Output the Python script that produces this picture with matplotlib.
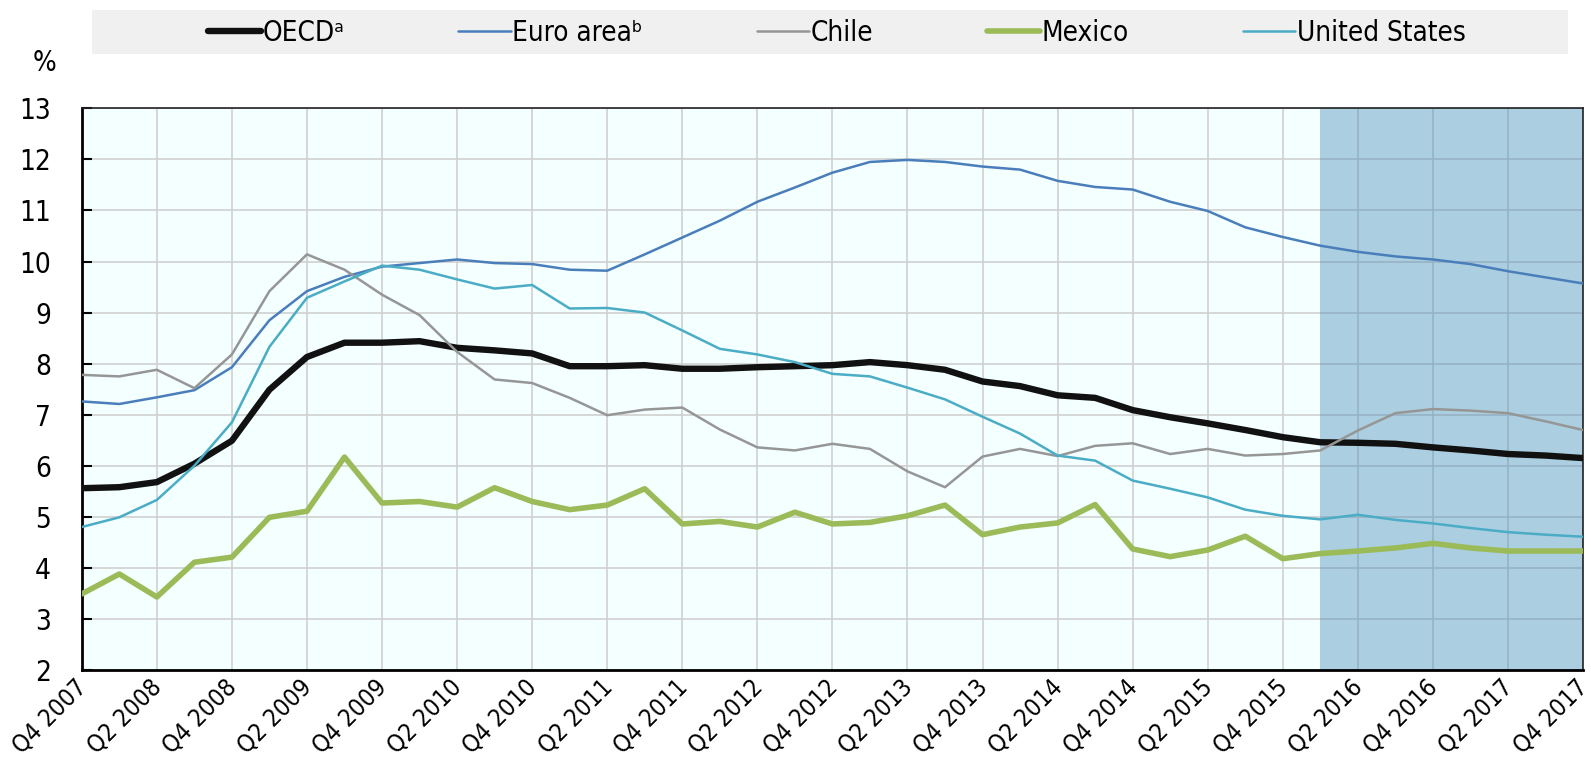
import matplotlib; matplotlib.use("Agg"); import matplotlib.pyplot as plt
from matplotlib.patches import Rectangle
from matplotlib import font_manager as fm
import matplotlib.transforms as mtrans
import numpy as np

# pick a narrow sans if one is installed
names = {f.name for f in fm.fontManager.ttflist}
condensed = [f for f in fm.fontManager.ttflist if 'ondensed' in f.fname or 'Narrow' in f.fname]
if 'Liberation Sans Narrow' in names:
    plt.rcParams['font.family'] = ['Liberation Sans Narrow', 'DejaVu Sans']
elif condensed:
    fam = condensed[0].name
    plt.rcParams['font.family'] = [fam, 'DejaVu Sans']
    plt.rcParams['font.stretch'] = condensed[0].stretch
else:
    plt.rcParams['font.family'] = ['DejaVu Sans']

# quarters Q4 2007 .. Q4 2017
quarters = [f"Q{(q + 3) % 4 + 1} {2007 + (q + 3) // 4}" for q in range(41)]
oecd = [5.56, 5.58, 5.68, 6.04, 6.49, 7.49, 8.13, 8.41, 8.41, 8.44, 8.31, 8.26, 8.20, 7.95,
        7.95, 7.97, 7.90, 7.90, 7.93, 7.95, 7.97, 8.03, 7.97, 7.88, 7.65, 7.56, 7.38,
        7.33, 7.09, 6.95, 6.83, 6.70, 6.56, 6.46, 6.45, 6.43, 6.36, 6.30, 6.23, 6.20, 6.15]
euro = [7.26, 7.21, 7.34, 7.48, 7.93, 8.85, 9.42, 9.70, 9.90, 9.97, 10.04, 9.97, 9.95, 9.84,
        9.82, 10.14, 10.47, 10.80, 11.17, 11.45, 11.74, 11.95, 11.99, 11.95, 11.86, 11.80, 11.58,
        11.46, 11.41, 11.17, 10.99, 10.67, 10.48, 10.31, 10.19, 10.10, 10.04, 9.95, 9.81, 9.69, 9.57]
chile = [7.78, 7.75, 7.88, 7.52, 8.18, 9.42, 10.14, 9.84, 9.35, 8.95, 8.23, 7.69, 7.62, 7.33,
         6.99, 7.10, 7.14, 6.71, 6.36, 6.30, 6.43, 6.33, 5.89, 5.58, 6.18, 6.33, 6.19,
         6.39, 6.44, 6.23, 6.33, 6.20, 6.23, 6.30, 6.69, 7.03, 7.11, 7.08, 7.03, 6.87, 6.70]
mexico = [3.49, 3.88, 3.43, 4.11, 4.21, 4.99, 5.11, 6.17, 5.27, 5.30, 5.19, 5.57, 5.30, 5.14,
          5.23, 5.55, 4.86, 4.91, 4.80, 5.09, 4.86, 4.89, 5.02, 5.23, 4.65, 4.80, 4.88,
          5.24, 4.37, 4.22, 4.35, 4.62, 4.18, 4.28, 4.33, 4.39, 4.48, 4.39, 4.33, 4.33, 4.33]
usa = [4.80, 4.99, 5.33, 6.00, 6.85, 8.33, 9.29, 9.61, 9.92, 9.84, 9.65, 9.47, 9.54, 9.08,
       9.09, 9.00, 8.65, 8.29, 8.18, 8.03, 7.80, 7.75, 7.53, 7.30, 6.96, 6.63, 6.20,
       6.10, 5.71, 5.55, 5.38, 5.14, 5.02, 4.95, 5.04, 4.94, 4.87, 4.78, 4.70, 4.65, 4.61]
proj_start = "Q1 2016"

x = np.arange(len(quarters))
fig = plt.figure(figsize=(15.91, 7.63), dpi=100)
ax = fig.add_axes([0.0514, 0.1219, 0.9436, 0.7361])
ax.set_facecolor('#f4ffff')

ax.set_xlim(0, len(quarters) - 1)
ax.set_ylim(2, 13)
ax.set_yticks(range(2, 14))
ax.set_xticks(x[::2])
ax.set_xticklabels(quarters[::2], rotation=45, ha='right', va='top', rotation_mode='anchor')
ax.grid(True, color='#cdcdcd', lw=1.1, zorder=0)
ax.set_axisbelow(True)
ax.tick_params(axis='y', direction='in', length=7, width=1.5, pad=22, labelsize=20)
ax.tick_params(axis='x', length=0, pad=4, labelsize=17.5)
shift = mtrans.ScaledTranslation(-7 / 100, 0, fig.dpi_scale_trans)
for lbl in ax.get_xticklabels():
    lbl.set_transform(lbl.get_transform() + shift)

ax.axvspan(quarters.index(proj_start), len(quarters) - 1, color='#3e87b2', alpha=0.4, lw=0, zorder=1)

lines = [
    (oecd, "OECD\u1d43", '#111111', 4.6),
    (euro, "Euro area\u1d47", '#4a7ebb', 1.8),
    (chile, "Chile", '#969696', 1.8),
    (mexico, "Mexico", '#9bbb59', 4.0),
    (usa, "United States", '#4bacc6', 1.8),
]
handles = []
for vals, lab, col, lw in lines:
    h, = ax.plot(x, vals, color=col, lw=lw, label=lab, zorder=3, solid_capstyle='round')
    handles.append(h)

for s in ('left', 'bottom'):
    ax.spines[s].set_linewidth(2); ax.spines[s].set_color('black')
for s in ('top', 'right'):
    ax.spines[s].set_linewidth(1.2); ax.spines[s].set_color('#222222')

fig.add_artist(Rectangle((0.0578, 0.929), 0.9277, 0.0578, transform=fig.transFigure,
                         fc='#f0f0f0', ec='none', zorder=0))
fig.legend(handles=handles, loc='center', bbox_to_anchor=(0.526, 0.957), ncol=5, frameon=False,
           fontsize=20, handlelength=1.9, handletextpad=0.05, columnspacing=4.1)
fig.text(0.028, 0.917, "%", fontsize=20, ha='center', va='center')

fig.savefig("out.png", dpi=100, facecolor='white')
